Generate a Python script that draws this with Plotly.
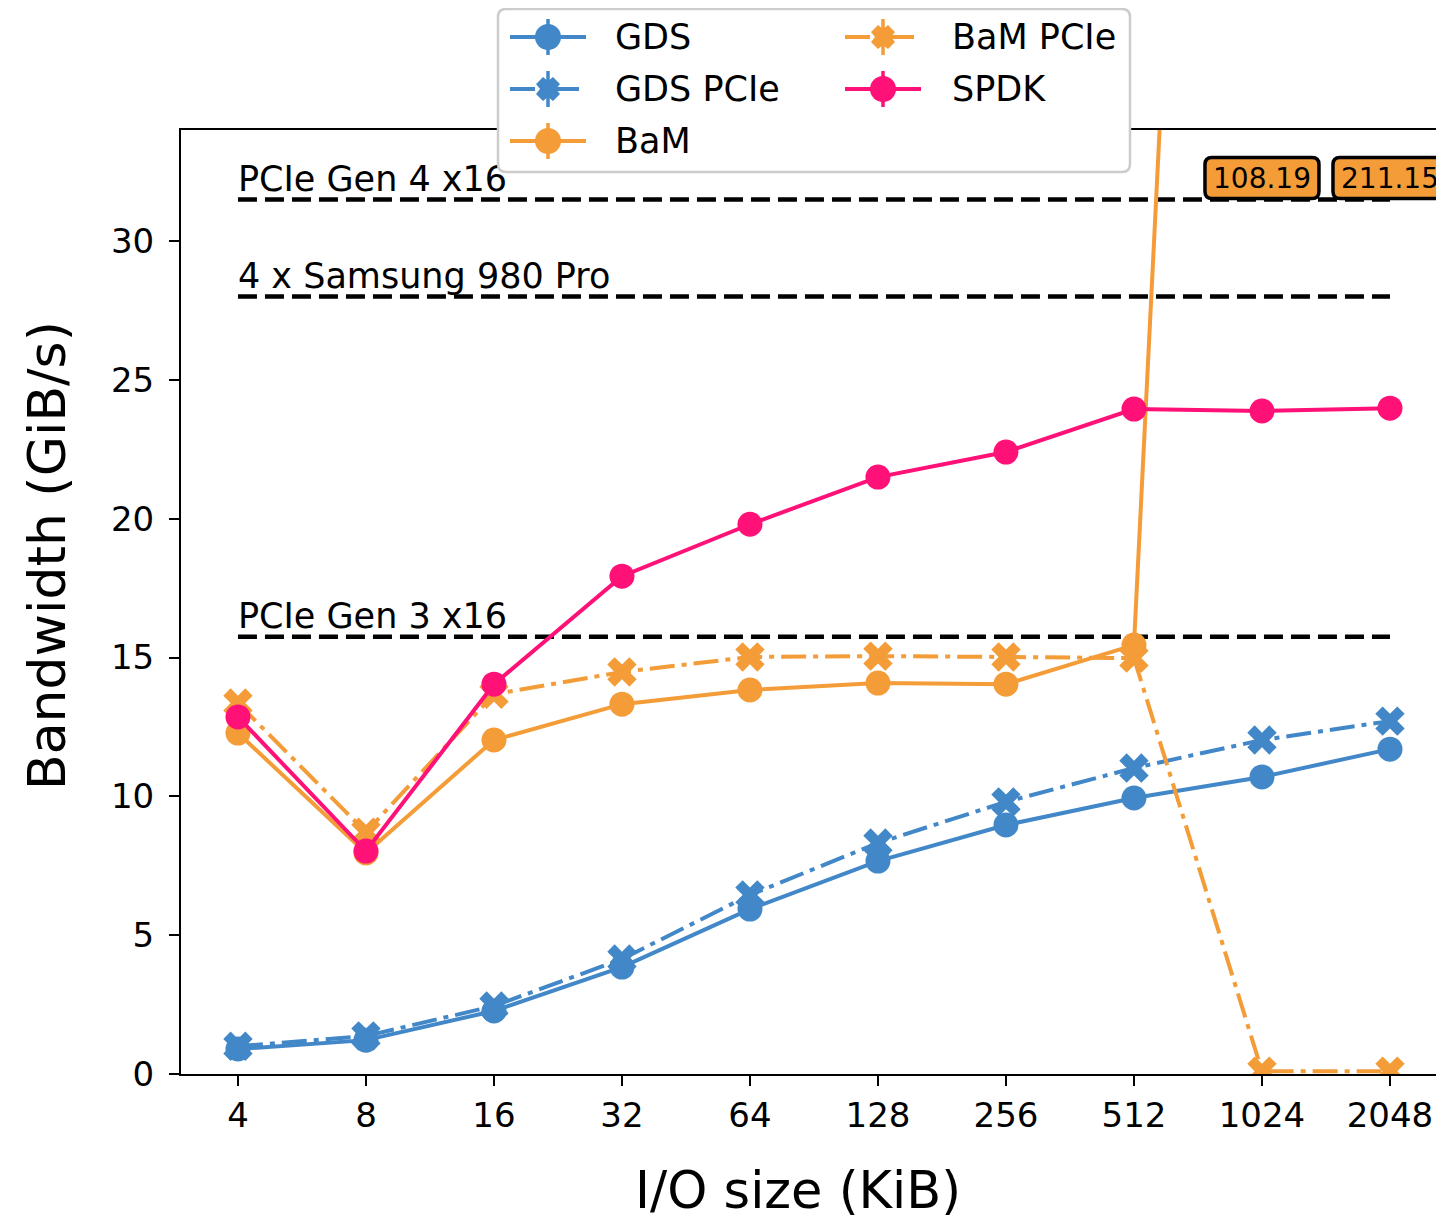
import plotly.graph_objects as go

io_sizes = ["4", "8", "16", "32", "64", "128", "256", "512", "1024", "2048"]

gds = [0.90, 1.22, 2.27, 3.85, 5.94, 7.67, 8.97, 9.94, 10.70, 11.70]
gds_pcie = [1.00, 1.37, 2.45, 4.14, 6.45, 8.32, 9.80, 11.02, 12.03, 12.71]
bam = [12.28, 7.96, 12.03, 13.32, 13.83, 14.08, 14.04, 15.45, 108.19, 211.15]
bam_pcie = [13.36, 8.71, 13.68, 14.48, 15.02, 15.05, 15.02, 14.98, 0.10, 0.10]
spdk = [12.86, 8.03, 14.04, 17.93, 19.80, 21.50, 22.40, 23.95, 23.88, 23.98]

ref_labels = ["PCIe Gen 4 x16", "4 x Samsung 980 Pro", "PCIe Gen 3 x16"]
ref_values = [31.5, 28.0, 15.75]

y_max = 34.0
y_ticks = [0, 5, 10, 15, 20, 25, 30]
overflow_label_y = 32.27

BLUE = "#4288c8"
ORANGE = "#f39c38"
PINK = "#ff1177"
FONT = "DejaVu Sans"
DASHDOT = "25px,7px,5px,7px"

# page is rendered with an 8px body margin
W, H = 1436, 1211
ML, MT, MB = 173, 122, 145
PW = W - ML
PH = H - MT - MB
OFF = 8


def px(xp):  # page x pixel -> paper x
    return (xp - OFF - ML) / PW


def py(yp):  # page y pixel -> paper y
    return (H - MB - (yp - OFF)) / PH


def rounded_rect(hw, hh, r):  # path in pixel offsets around an anchor
    return (f"M{-hw+r},{-hh} L{hw-r},{-hh} Q{hw},{-hh} {hw},{-hh+r} "
            f"L{hw},{hh-r} Q{hw},{hh} {hw-r},{hh} L{-hw+r},{hh} "
            f"Q{-hw},{hh} {-hw},{hh-r} L{-hw},{-hh+r} Q{-hw},{-hh} {-hw+r},{-hh} Z")


fig = go.Figure()

series = [
    ("GDS", gds, BLUE, "circle", "solid"),
    ("GDS PCIe", gds_pcie, BLUE, "x", DASHDOT),
    ("BaM", bam, ORANGE, "circle", "solid"),
    ("BaM PCIe", bam_pcie, ORANGE, "x", DASHDOT),
    ("SPDK", spdk, PINK, "circle", "solid"),
]

for name, vals, color, sym, dash in series:
    fig.add_trace(go.Scatter(
        x=io_sizes, y=vals, name=name, mode="lines+markers",
        line=dict(color=color, width=4, dash=dash),
        marker=dict(color=color, symbol=sym, size=25 if sym == "circle" else 26,
                    line=dict(width=0)),
        showlegend=False, cliponaxis=True,
    ))

shapes = []
annotations = []

# reference lines and their labels
for lab, val in zip(ref_labels, ref_values):
    shapes.append(dict(type="line", xref="x", yref="y", x0=0, x1=len(io_sizes) - 1,
                       y0=val, y1=val,
                       line=dict(color="black", width=4.5, dash="19px,8px"), layer="below"))
    fig.add_trace(go.Scatter(
        x=[io_sizes[0]], y=[val], text=[lab], mode="text", textposition="top right",
        textfont=dict(family=FONT, size=35, color="black"),
        showlegend=False, hoverinfo="skip",
    ))

# overflow labels for values beyond the axis
for i, v in enumerate(bam):
    if v > y_max:
        shapes.append(dict(type="path", xref="x", yref="y", xsizemode="pixel",
                           ysizemode="pixel", xanchor=i, yanchor=overflow_label_y,
                           path=rounded_rect(57, 20.5, 7), fillcolor=ORANGE,
                           line=dict(color="black", width=3.5), layer="above"))
        annotations.append(dict(x=i, y=overflow_label_y, xref="x", yref="y",
                                text=f"{v:.2f}", showarrow=False,
                                xanchor="center", yanchor="middle",
                                font=dict(family=FONT, size=28, color="black")))

# custom legend (two columns, matplotlib style)
bx0, bx1, by0, by1 = 498, 1130, 9, 172
r = 8
rx, ry = r / PW, r / PH
X0, X1, Y0, Y1 = px(bx0), px(bx1), py(by1), py(by0)
box_path = (f"M{X0+rx},{Y0} L{X1-rx},{Y0} Q{X1},{Y0} {X1},{Y0+ry} "
            f"L{X1},{Y1-ry} Q{X1},{Y1} {X1-rx},{Y1} L{X0+rx},{Y1} "
            f"Q{X0},{Y1} {X0},{Y1-ry} L{X0},{Y0+ry} Q{X0},{Y0} {X0+rx},{Y0} Z")
shapes.append(dict(type="path", xref="paper", yref="paper", path=box_path,
                   fillcolor="white", line=dict(color="#cccccc", width=2.5), layer="above"))

legend_slots = [  # (marker centre x, row y, text x) in page pixels, column-major
    (548, 37, 613), (548, 89, 613), (548, 141, 613),
    (883, 37, 950), (883, 89, 950),
]
legend_order = ["GDS", "GDS PCIe", "BaM", "BaM PCIe", "SPDK"]
style = {s[0]: s for s in series}

s_, e_, d_ = 12, 7, 8
x_path = (f"M0,{d_} L{s_-e_},{s_} L{s_},{s_-e_} L{d_},0 L{s_},{-(s_-e_)} L{s_-e_},{-s_} "
          f"L0,{-d_} L{-(s_-e_)},{-s_} L{-s_},{-(s_-e_)} L{-d_},0 L{-s_},{s_-e_} "
          f"L{-(s_-e_)},{s_} Z")

for name, (mx, ry_, tx) in zip(legend_order, legend_slots):
    _, _, color, sym, dash = style[name]
    xa, ya = px(mx), py(ry_)
    shapes.append(dict(type="line", xref="paper", yref="paper", xsizemode="pixel",
                       ysizemode="pixel", xanchor=xa, yanchor=ya,
                       x0=-38, x1=38, y0=0, y1=0,
                       line=dict(color=color, width=4, dash=dash), layer="above"))
    shapes.append(dict(type="line", xref="paper", yref="paper", xsizemode="pixel",
                       ysizemode="pixel", xanchor=xa, yanchor=ya,
                       x0=0, x1=0, y0=-18, y1=18,
                       line=dict(color=color, width=3.5), layer="above"))
    if sym == "circle":
        shapes.append(dict(type="circle", xref="paper", yref="paper", xsizemode="pixel",
                           ysizemode="pixel", xanchor=xa, yanchor=ya,
                           x0=-13, x1=13, y0=-13, y1=13,
                           fillcolor=color, line=dict(width=0), layer="above"))
    else:
        shapes.append(dict(type="path", xref="paper", yref="paper", xsizemode="pixel",
                           ysizemode="pixel", xanchor=xa, yanchor=ya, path=x_path,
                           fillcolor=color, line=dict(width=0), layer="above"))
    annotations.append(dict(x=px(tx), y=ya, xref="paper", yref="paper", text=name,
                            showarrow=False, xanchor="left", yanchor="middle",
                            font=dict(family=FONT, size=35, color="black")))

# axis titles
annotations.append(dict(x=px(798), y=py(1190), xref="paper", yref="paper",
                        text="I/O size (KiB)", showarrow=False,
                        xanchor="center", yanchor="middle",
                        font=dict(family=FONT, size=51, color="black")))
annotations.append(dict(x=px(47), y=py(556), xref="paper", yref="paper",
                        text="Bandwidth (GiB/s)", showarrow=False, textangle=-90,
                        xanchor="center", yanchor="middle",
                        font=dict(family=FONT, size=52, color="black")))

fig.update_layout(
    width=W, height=H,
    margin=dict(l=ML, r=0, t=MT, b=MB, autoexpand=False),
    plot_bgcolor="white", paper_bgcolor="white",
    font=dict(family=FONT, size=34, color="black"),
    shapes=shapes, annotations=annotations,
    showlegend=False,
    xaxis=dict(
        type="category", range=[-0.445, 9.422],
        showline=True, linecolor="black", linewidth=2, mirror=True,
        ticks="outside", ticklen=10, tickwidth=2, tickcolor="black",
        tickfont=dict(family=FONT, size=34),
        showgrid=False, zeroline=False,
    ),
    yaxis=dict(
        range=[0, y_max], tickvals=y_ticks,
        showline=True, linecolor="black", linewidth=2, mirror=False,
        ticks="outside", ticklen=10, tickwidth=2, tickcolor="black",
        tickfont=dict(family=FONT, size=34), ticklabelstandoff=8,
        showgrid=False, zeroline=False,
    ),
)

fig.write_html("out.html")
